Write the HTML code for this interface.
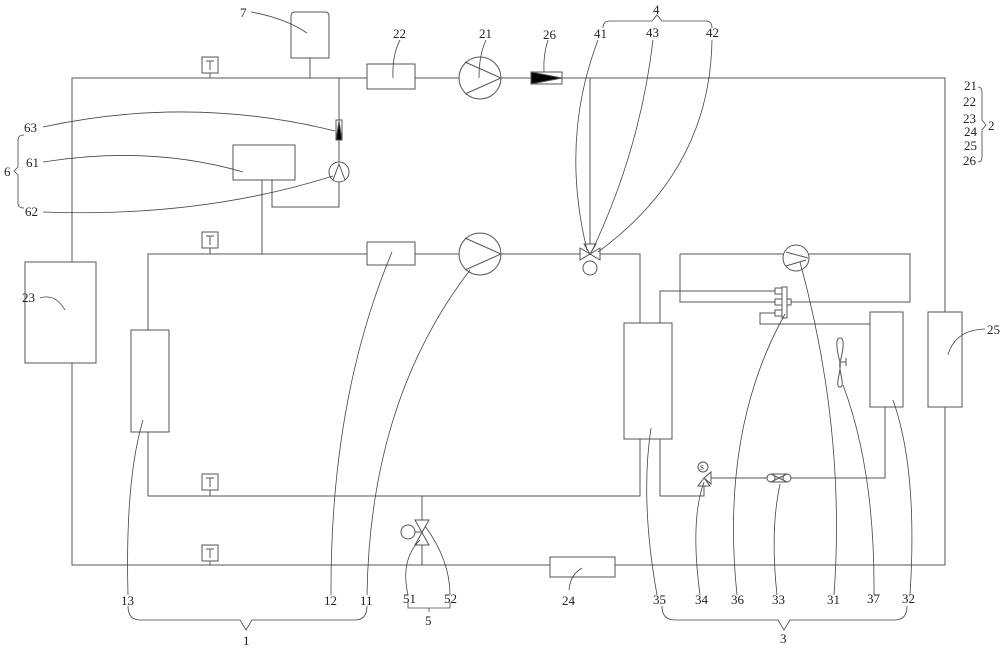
<!DOCTYPE html>
<html><head><meta charset="utf-8"><style>html,body{margin:0;padding:0;background:#fff}svg{display:block}text{font-family:"Liberation Serif",serif;font-size:13px;fill:#222}</style></head><body>
<svg width="1000" height="648" viewBox="0 0 1000 648" xmlns="http://www.w3.org/2000/svg">
<g fill="none" stroke="#555" stroke-width="1">
<path d="M72 78H945V565H72Z"/>
<rect x="25" y="262" width="71" height="101" fill="#fff"/>
<rect x="928" y="312" width="34" height="95" fill="#fff"/>
<rect x="550" y="557" width="65" height="20" fill="#fff"/>
<rect x="367" y="64" width="48" height="25" fill="#fff"/>
<circle cx="480" cy="78" r="21" fill="#fff"/>
<path d="M465 62L501 78L465 94"/>
<rect x="531" y="72" width="31" height="12" fill="#fff"/>
<path d="M531 72L562 78L531 84Z" fill="#000"/>
<rect x="202" y="57" width="16" height="16" fill="#fff"/><path d="M210 73V78M206 61H214M210 61V70"/>
<rect x="202" y="232" width="16" height="16" fill="#fff"/><path d="M210 248V254M206 236H214M210 236V245"/>
<rect x="202" y="474" width="16" height="16" fill="#fff"/><path d="M210 490V496M206 478H214M210 478V487"/>
<rect x="202" y="545" width="16" height="16" fill="#fff"/><path d="M210 561V565M206 549H214M210 549V558"/>
<path d="M291 58V16Q291 12 295 12H325Q329 12 329 16V58Z" fill="#fff"/>
<path d="M310 58V78"/>
<path d="M339 78V162M339 182V207H272V180M262 180V254"/>
<rect x="336" y="120" width="6" height="20" fill="#fff"/><path d="M336 140L339 121L342 140Z" fill="#000"/>
<circle cx="339" cy="172" r="10" fill="#fff"/><path d="M333 180L339 164L345 180"/>
<rect x="233" y="145" width="62" height="35" fill="#fff"/>
<path d="M640 323V254H148V496H640V439"/>
<rect x="131" y="330" width="38" height="102" fill="#fff"/>
<rect x="367" y="242" width="48" height="23" fill="#fff"/>
<circle cx="480" cy="254" r="21" fill="#fff"/>
<path d="M465 238L501 254L465 270"/>
<path d="M590 78V254"/>
<path d="M580 248L590 254L580 260ZM600 248L590 254L600 260ZM584 244L596 244L590 254Z" fill="#fff"/>
<circle cx="590" cy="268" r="7" fill="#fff"/>
<path d="M422 496V565"/>
<path d="M415 520H429L415 545H429Z" fill="#fff"/>
<circle cx="408" cy="532" r="7" fill="#fff"/><path d="M415 532H422"/>
<rect x="624" y="323" width="48" height="116" fill="#fff"/>
<path d="M660 323V291H782"/>
<path d="M680 254H783M809 254H910V302H787M680 254V302H782"/>
<circle cx="796" cy="258" r="13" fill="#fff"/><path d="M786 252L808 258M786 266L806 260"/>
<rect x="782" y="287" width="5" height="31" fill="#fff"/>
<rect x="775" y="288" width="7" height="6" fill="#fff"/><rect x="775" y="299" width="7" height="6" fill="#fff"/><rect x="775" y="310" width="7" height="6" fill="#fff"/>
<rect x="787" y="299" width="4" height="6" fill="#fff"/>
<path d="M775 313H760V324H870"/>
<rect x="870" y="312" width="33" height="95" fill="#fff"/>
<path d="M885 407V478H791M767 478H711M704 485V496H660V439"/>
<path d="M771 474H787M771 482H787"/>
<circle cx="771" cy="478" r="4" fill="#fff"/><circle cx="787" cy="478" r="4" fill="#fff"/><path d="M771 474L787 482M787 474L771 482"/>
<path d="M704 478L711 472V484Z M704 478L698 486H710Z" fill="#fff"/>
<circle cx="703" cy="467" r="5" fill="#fff"/>
<path d="M840 338C834 338 838 355 840 362C842 370 834 387 840 387C846 387 838 370 840 362C842 355 846 338 840 338Z M840 362H846M846 358V366"/>
<g stroke="#444" stroke-width="0.8">
<path d="M251 12Q285 18 307 33"/>
<path d="M400 40Q392 55 393 78"/>
<path d="M486 40Q479 55 479 78"/>
<path d="M548 40Q543 55 544 72"/>
<path d="M598 40Q560 140 587 250"/>
<path d="M653 40Q640 150 592 251"/>
<path d="M712 40Q710 170 598 252"/>
<path d="M43 127Q190 95 335 131"/>
<path d="M43 162Q150 145 243 172"/>
<path d="M43 212Q200 218 333 176"/>
<path d="M40 298Q55 293 65 310"/>
<path d="M985 329Q955 330 948 355"/>
<path d="M128 595Q125 480 143 420"/>
<path d="M331 595Q330 400 392 252"/>
<path d="M367 595Q370 400 470 270"/>
<path d="M408 595Q400 560 420 540"/>
<path d="M450 595Q450 560 425 526"/>
<path d="M569 590Q570 575 582 568"/>
<path d="M657 595Q640 500 651 428"/>
<path d="M700 595Q690 520 704 482"/>
<path d="M737 595Q720 430 785 314"/>
<path d="M777 595Q770 530 780 484"/>
<path d="M834 595Q846 430 800 262"/>
<path d="M874 595Q875 470 843 385"/>
<path d="M910 595Q918 470 893 400"/>
<path d="M128 606Q128 620 140 620H240L246 630L252 620H355Q367 620 367 606"/>
<path d="M408 602V608H450V602M429 608V612"/>
<path d="M662 606Q662 620 675 620H778L784 630L790 620H895Q907 620 907 606"/>
<path d="M603 28Q603 21 610 21H652L657 15L662 21H706Q712 21 712 28"/>
<path d="M978 87Q982 87 982 92V120L986 125L982 130V157Q982 162 978 162"/>
<path d="M24 135Q18 135 18 140V167L14 171L18 175V203Q18 208 24 208"/>
</g>
</g>
<g>
<text x="700" y="470" style="font-size:7px">S</text>
<text x="240" y="17">7</text>
<text x="393" y="38">22</text>
<text x="479" y="38">21</text>
<text x="543" y="39">26</text>
<text x="594" y="38">41</text>
<text x="646" y="37">43</text>
<text x="706" y="37">42</text>
<text x="653" y="14">4</text>
<text x="964" y="90">21</text>
<text x="963" y="106">22</text>
<text x="963" y="123">23</text>
<text x="964" y="136">24</text>
<text x="964" y="150">25</text>
<text x="963" y="165">26</text>
<text x="988" y="130">2</text>
<text x="24" y="132">63</text>
<text x="26" y="167">61</text>
<text x="25" y="216">62</text>
<text x="4" y="176">6</text>
<text x="22" y="302">23</text>
<text x="987" y="334">25</text>
<text x="121" y="605">13</text>
<text x="324" y="605">12</text>
<text x="360" y="605">11</text>
<text x="403" y="603">51</text>
<text x="444" y="603">52</text>
<text x="425" y="625">5</text>
<text x="243" y="645">1</text>
<text x="562" y="605">24</text>
<text x="653" y="604">35</text>
<text x="695" y="604">34</text>
<text x="731" y="604">36</text>
<text x="772" y="604">33</text>
<text x="827" y="604">31</text>
<text x="867" y="603">37</text>
<text x="902" y="603">32</text>
<text x="780" y="643">3</text>
</g>
</svg>
</body></html>
